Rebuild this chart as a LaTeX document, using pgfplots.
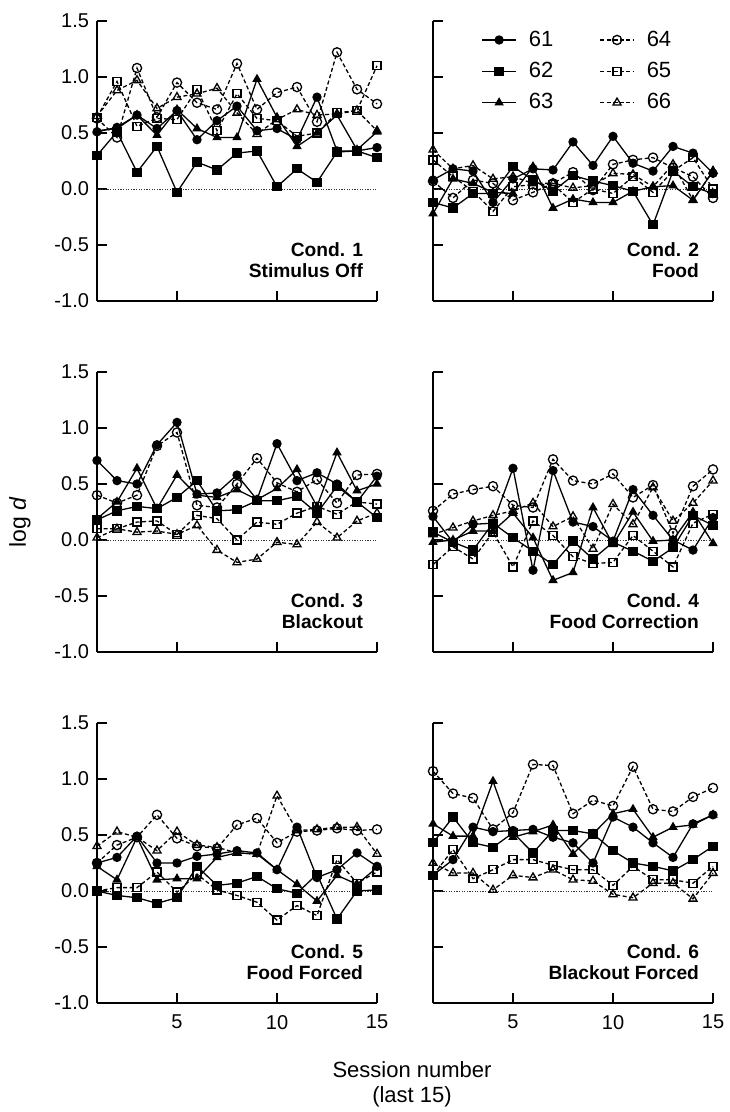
\documentclass[border=0pt]{standalone}
\usepackage{fontspec}
\setmainfont{Liberation Sans}
\usepackage{pgfplots}
\usepackage{pgfplotstable}
\pgfplotsset{compat=1.18}

% session, 61, 62, 63, 64, 65, 66
\pgfplotstableread{
s a b c d e f
1 0.51 0.30 0.52 0.63 0.64 0.65
2 0.55 0.51 0.54 0.46 0.96 0.88
3 0.66 0.15 0.66 1.08 0.56 0.97
4 0.54 0.38 0.48 0.64 0.63 0.72
5 0.70 -0.03 0.71 0.95 0.62 0.82
6 0.44 0.24 0.54 0.77 0.89 0.85
7 0.61 0.17 0.46 0.71 0.52 0.90
8 0.74 0.32 0.46 1.12 0.85 0.68
9 0.52 0.34 0.98 0.71 0.63 0.49
10 0.54 0.02 0.64 0.86 0.61 0.62
11 0.44 0.18 0.38 0.91 0.47 0.71
12 0.82 0.06 0.50 0.60 0.50 0.66
13 0.34 0.33 0.66 1.22 0.68 0.67
14 0.34 0.34 0.35 0.89 0.70 0.70
15 0.37 0.28 0.51 0.76 1.10 0.52
}\condA
\pgfplotstableread{
s a b c d e f
1 0.08 -0.12 -0.22 0.07 0.26 0.35
2 0.18 -0.17 0.09 -0.08 0.11 0.18
3 0.16 -0.04 0.05 0.08 -0.02 0.21
4 -0.12 -0.04 -0.03 0.05 -0.20 0.09
5 0.09 0.20 -0.04 -0.10 0.02 0.11
6 0.18 0.08 0.20 -0.03 0.04 0.05
7 0.17 -0.02 -0.17 0.05 0.04 0.05
8 0.42 0.12 -0.09 0.15 -0.12 0.01
9 0.21 0.07 -0.12 -0.01 0.00 0.03
10 0.47 0.03 -0.12 0.22 -0.04 0.14
11 0.23 -0.02 -0.02 0.26 0.11 0.13
12 0.16 -0.32 0.02 0.28 -0.03 0.02
13 0.38 0.16 0.03 0.19 0.16 0.22
14 0.32 0.02 -0.10 0.11 0.28 -0.10
15 0.14 -0.04 0.16 -0.08 0.00 0.16
}\condB
\pgfplotstableread{
s a b c d e f
1 0.71 0.18 0.19 0.40 0.10 0.02
2 0.53 0.26 0.34 0.33 0.10 0.10
3 0.50 0.30 0.64 0.40 0.16 0.07
4 0.85 0.28 0.28 0.84 0.17 0.08
5 1.05 0.38 0.58 0.96 0.05 0.05
6 0.41 0.53 0.40 0.31 0.22 0.13
7 0.42 0.26 0.38 0.29 0.19 -0.09
8 0.58 0.27 0.45 0.50 0.00 -0.20
9 0.36 0.35 0.36 0.73 0.16 -0.17
10 0.86 0.35 0.46 0.51 0.14 -0.02
11 0.53 0.39 0.63 0.43 0.24 -0.04
12 0.60 0.24 0.30 0.54 0.30 0.16
13 0.50 0.48 0.78 0.33 0.23 0.02
14 0.34 0.34 0.44 0.58 0.34 0.17
15 0.57 0.20 0.50 0.59 0.32 0.24
}\condC
\pgfplotstableread{
s a b c d e f
1 0.21 0.07 -0.02 0.26 -0.22 0.05
2 -0.02 -0.02 0.00 0.41 -0.06 0.11
3 0.14 -0.09 0.08 0.45 -0.17 0.17
4 0.15 0.15 0.08 0.48 0.07 0.22
5 0.64 0.02 0.24 0.31 -0.24 0.26
6 -0.27 -0.10 0.02 0.29 0.17 0.33
7 0.62 -0.22 -0.36 0.72 0.04 0.12
8 0.16 -0.01 -0.29 0.53 -0.15 0.21
9 0.12 -0.17 0.29 0.50 -0.21 -0.08
10 -0.01 -0.02 -0.04 0.59 -0.20 0.32
11 0.45 -0.10 0.25 0.38 0.04 0.14
12 0.22 -0.19 -0.01 0.49 -0.10 0.47
13 0.00 -0.07 0.00 0.06 -0.24 0.17
14 -0.09 0.22 0.25 0.48 0.15 0.33
15 0.20 0.13 -0.03 0.63 0.23 0.53
}\condD
\pgfplotstableread{
s a b c d e f
1 0.25 0.00 0.22 0.25 0.00 0.40
2 0.30 -0.04 0.10 0.41 0.03 0.53
3 0.49 -0.06 0.48 0.48 0.03 0.48
4 0.25 -0.11 0.10 0.68 0.17 0.36
5 0.25 -0.06 0.11 0.47 -0.01 0.53
6 0.31 0.22 0.11 0.40 0.15 0.41
7 0.33 0.05 0.30 0.38 0.01 0.39
8 0.36 0.07 0.34 0.59 -0.04 0.34
9 0.34 0.13 0.33 0.65 -0.10 0.33
10 0.19 0.02 0.19 0.43 -0.26 0.85
11 0.57 -0.02 0.06 0.53 -0.13 0.54
12 0.12 0.15 -0.09 0.54 -0.22 0.55
13 0.19 -0.25 0.14 0.56 0.28 0.57
14 0.34 0.00 0.06 0.54 0.07 0.57
15 0.22 0.01 0.21 0.55 0.17 0.33
}\condE
\pgfplotstableread{
s a b c d e f
1 0.14 0.43 0.60 1.07 0.14 0.25
2 0.28 0.66 0.49 0.87 0.37 0.16
3 0.57 0.43 0.49 0.83 0.11 0.16
4 0.53 0.39 0.98 0.55 0.19 0.01
5 0.54 0.52 0.48 0.70 0.28 0.14
6 0.55 0.34 0.53 1.13 0.28 0.12
7 0.48 0.54 0.59 1.12 0.23 0.19
8 0.43 0.54 0.33 0.69 0.19 0.10
9 0.25 0.51 0.51 0.81 0.19 0.09
10 0.66 0.36 0.69 0.76 0.05 -0.03
11 0.57 0.25 0.73 1.11 0.22 -0.06
12 0.43 0.22 0.48 0.73 0.10 0.07
13 0.30 0.18 0.57 0.71 0.10 0.07
14 0.60 0.28 0.59 0.84 0.07 -0.07
15 0.68 0.40 0.68 0.92 0.22 0.16
}\condF

\tikzset{cond/.style={anchor=east, align=right, font=\bfseries\fontsize{9.6}{10.5}\selectfont}}

\pgfplotsset{
  panel/.style={
    scale only axis, width=140pt, height=140pt,
    xmin=1, xmax=15, ymin=-1, ymax=1.5,
    axis x line*=bottom, axis y line*=left,
    axis line style={-, line width=0.9pt, black},
    tick align=inside, major tick length=5pt,
    major tick style={line width=0.9pt, black},
    xtick={5,10,15}, ytick={-1,-0.5,0,0.5,1,1.5},
    xticklabels={}, yticklabels={},
    tick label style={font=\fontsize{10}{11}\selectfont},
    xticklabel style={yshift=-2.5pt},
    yticklabel style={xshift=-0.5pt},
    clip=false,
  },
  ylab/.style={yticklabels={-1.0,-0.5,0.0,0.5,1.0,1.5}},
  xlab/.style={xticklabels={5,10,15}},
  zero/.style={black!80, line width=0.45pt, dash pattern=on 0.6pt off 0.7pt, forget plot},
  s61/.style={black, line width=0.65pt, mark=*, mark size=2pt},
  s62/.style={black, line width=0.65pt, mark=square*, mark size=2pt},
  s63/.style={black, line width=0.65pt, mark=triangle*, mark size=2.1pt},
  s64/.style={black, line width=0.65pt, dash pattern=on 2pt off 1.3pt, mark=o, mark size=2.3pt,
    mark options={solid, fill=white}},
  s65/.style={black, line width=0.65pt, dash pattern=on 2pt off 1.3pt, mark=square, mark size=2pt,
    mark options={solid, fill=white}},
  s66/.style={black, line width=0.65pt, dash pattern=on 2pt off 1.3pt, mark=triangle, mark size=2.3pt,
    mark options={solid, fill=white}},
}

\newcommand\allseries[1]{%
  \addplot[zero] coordinates {(1,0) (15,0)};
  \addplot[s61] table[x=s,y=a] {#1};
  \addplot[s62] table[x=s,y=b] {#1};
  \addplot[s63] table[x=s,y=c] {#1};
  \addplot[s64] table[x=s,y=d] {#1};
  \addplot[s65] table[x=s,y=e] {#1};
  \addplot[s66] table[x=s,y=f] {#1};
}

\begin{document}
\begin{tikzpicture}
\path[use as bounding box] (0,0) rectangle (364.5pt,556pt);

\begin{axis}[panel, ylab, at={(48.5pt,405.5pt)}, anchor=south west]
  \allseries{\condA}
  \node[cond] at (rel axis cs:0.975,0.145) {Cond. 1\\Stimulus Off};
\end{axis}

\begin{axis}[panel, at={(216.5pt,405.5pt)}, anchor=south west,
  legend style={draw=none, fill=none, at={(0.15,0.995)}, anchor=north west,
    font=\fontsize{11}{12}\selectfont, row sep=2.5pt,
    /tikz/every odd column/.append style={column sep=4pt},
    /tikz/every even column/.append style={column sep=21pt}},
  legend columns=3, transpose legend, legend cell align=left]
  \allseries{\condB}
  \legend{61,62,63,64,65,66}
  \node[cond] at (rel axis cs:0.975,0.145) {Cond. 2\\Food};
\end{axis}

\begin{axis}[panel, ylab, at={(48.5pt,230pt)}, anchor=south west]
  \allseries{\condC}
  \node[cond] at (rel axis cs:0.975,0.145) {Cond. 3\\Blackout};
\end{axis}

\begin{axis}[panel, at={(216.5pt,230pt)}, anchor=south west]
  \allseries{\condD}
  \node[cond] at (rel axis cs:0.975,0.145) {Cond. 4\\Food Correction};
\end{axis}

\begin{axis}[panel, ylab, xlab, at={(48.5pt,54.5pt)}, anchor=south west]
  \allseries{\condE}
  \node[cond] at (rel axis cs:0.975,0.145) {Cond. 5\\Food Forced};
\end{axis}

\begin{axis}[panel, xlab, at={(216.5pt,54.5pt)}, anchor=south west]
  \allseries{\condF}
  \node[cond] at (rel axis cs:0.975,0.145) {Cond. 6\\Blackout Forced};
\end{axis}

\node[rotate=90, font=\fontsize{11.5}{13}\selectfont] at (10pt,295pt) {log \textit{d}};
\node[align=center, font=\fontsize{11}{12.5}\selectfont] at (206pt,13.75pt) {Session number\\(last 15)};
\end{tikzpicture}
\end{document}
